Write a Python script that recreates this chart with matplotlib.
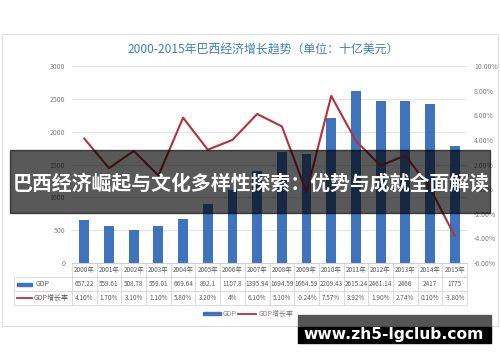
import matplotlib
matplotlib.use("Agg")
import matplotlib.pyplot as plt
from matplotlib.patches import Rectangle
from matplotlib.lines import Line2D

plt.rcParams['font.family'] = ['Noto Sans CJK SC', 'DejaVu Sans']

years = ["2000年", "2001年", "2002年", "2003年", "2004年", "2005年", "2006年", "2007年",
         "2008年", "2009年", "2010年", "2011年", "2012年", "2013年", "2014年", "2015年"]
gdp = [657.22, 559.61, 508.78, 559.01, 669.64, 892.1, 1107.8, 1395.94,
       1694.59, 1664.59, 2209.43, 2615.24, 2461.14, 2466, 2417, 1775]
gdp_labels = ["657.22", "559.61", "508.78", "559.01", "669.64", "892.1", "1107.8", "1395.94",
              "1694.59", "1664.59", "2209.43", "2615.24", "2461.14", "2466", "2417", "1775"]
growth = [4.10, 1.70, 3.10, 1.10, 5.80, 3.20, 4.0, 6.10,
          5.10, -0.24, 7.57, 3.92, 1.90, 2.74, 0.10, -3.80]
growth_labels = ["4.10%", "1.70%", "3.10%", "1.10%", "5.80%", "3.20%", "4%", "6.10%",
                 "5.10%", "-0.24%", "7.57%", "3.92%", "1.90%", "2.74%", "0.10%", "-3.80%"]
left_ticks = [0, 500, 1000, 1500, 2000, 2500, 3000]
right_ticks = [-6, -4, -2, 0, 2, 4, 6, 8, 10]

W, H = 500, 362
fig = plt.figure(figsize=(W / 100, H / 100), dpi=100)

def fx(px):
    return px / W

def fy(py):
    return 1 - py / H

BAR = "#3f74bd"
LINE = "#b3313a"
TXT = "#7f7f7f"
GRID = "#e3e3e3"

# chart frame
fig.patches.append(Rectangle((fx(2), fy(326)), fx(496), (326 - 34) / H,
                             transform=fig.transFigure, fill=False,
                             edgecolor="#dcdcdc", linewidth=0.8, zorder=0))

ax_l, ax_r, ax_t, ax_b = 72, 467, 66, 263
ax = fig.add_axes([fx(ax_l), fy(ax_b), (ax_r - ax_l) / W, (ax_b - ax_t) / H])
x = list(range(len(years)))
ax.bar(x, gdp, width=0.4, color=BAR, zorder=2)
ax.set_xlim(-0.5, len(years) - 0.5)
ax.set_ylim(0, 3000)
ax.set_yticks(left_ticks)
ax.set_yticklabels([str(t) for t in left_ticks])
ax.tick_params(axis='y', length=0, labelsize=5, labelcolor=TXT, pad=5)
ax.set_xticks([])
for s in ['top', 'right', 'left']:
    ax.spines[s].set_visible(False)
ax.spines['bottom'].set_color("#d0d0d0")
ax.grid(axis='y', color=GRID, linewidth=0.8, zorder=0)
ax.set_axisbelow(True)

ax2 = ax.twinx()
ax2.plot(x, growth, color=LINE, linewidth=1.5, zorder=3)
ax2.set_ylim(-6, 10)
ax2.set_yticks(right_ticks)
ax2.set_yticklabels([f"{t:.2f}%" for t in right_ticks])
ax2.tick_params(axis='y', length=0, labelsize=5, labelcolor=TXT, pad=5)
for s in ax2.spines.values():
    s.set_visible(False)

# title
fig.text(fx(263), fy(50), "2000-2015年巴西经济增长趋势（单位：十亿美元）",
         ha='center', va='center', fontsize=8.6, color="#3a7fc1")

# data table
plot_w = ax_r - ax_l
lab_w = ax_l - 14
tb_h = 305 - 263
cell_text = [[""] + years, [""] + gdp_labels, [""] + growth_labels]
tbl = ax.table(cellText=cell_text,
               colWidths=[lab_w / plot_w] + [1 / 16] * 16,
               bbox=[-lab_w / plot_w, -tb_h / (ax_b - ax_t), 1 + lab_w / plot_w, tb_h / (ax_b - ax_t)],
               cellLoc='center')
tbl.auto_set_font_size(False)
for (r, c), cell in tbl.get_celld().items():
    cell.set_edgecolor("#d6d6d6")
    cell.set_linewidth(0.6)
    cell.get_text().set_fontsize(4.6)
    cell.get_text().set_color("#595959")
    cell.PAD = 0.02
tbl[0, 0].visible_edges = ''

# row labels with legend glyphs
fig.patches.append(Rectangle((fx(17), fy(286)), fx(15), 3.5 / H, transform=fig.transFigure,
                             color=BAR))
fig.text(fx(36), fy(284.5), "GDP", fontsize=5, color="#595959", va='center', ha='left')
fig.lines.append(Line2D([fx(17), fx(32)], [fy(298), fy(298)], transform=fig.transFigure,
                        color=LINE, linewidth=1.3))
fig.text(fx(34), fy(298), "GDP增长率", fontsize=5, color="#595959", va='center', ha='left')

# legend
handles = [Rectangle((0, 0), 1, 1, color=BAR),
           Line2D([0], [0], color=LINE, linewidth=1.3)]
fig.legend(handles, ["GDP", "GDP增长率"], loc='center', bbox_to_anchor=(fx(248), fy(314)),
           ncol=2, frameon=False, fontsize=5, handlelength=2.6, handleheight=0.45,
           handletextpad=0.3, columnspacing=0.2, labelcolor="#7f7f7f")

# overlay banner
fig.patches.append(Rectangle((fx(10), fy(213)), fx(480), (213 - 150) / H,
                             transform=fig.transFigure, color="black", alpha=0.65, zorder=10))
fig.text(fx(251), fy(183), "巴西经济崛起与文化多样性探索：优势与成就全面解读",
         ha='center', va='center', fontsize=14.3, color="white", fontweight='bold', zorder=11)

# watermark box
fig.patches.append(Rectangle((fx(298), fy(327)), fx(193), 12 / H,
                             transform=fig.transFigure, color="#555555", zorder=10))
fig.patches.append(Rectangle((fx(298), fy(343)), fx(193), 16 / H,
                             transform=fig.transFigure, color="black", zorder=10))
fig.text(fx(394), fy(335), "www.zh5-lgclub.com", ha='center', va='center',
         fontsize=11.2, color="white", fontweight='bold', family=['DejaVu Sans'], zorder=11)

fig.savefig("out.png", dpi=100)
